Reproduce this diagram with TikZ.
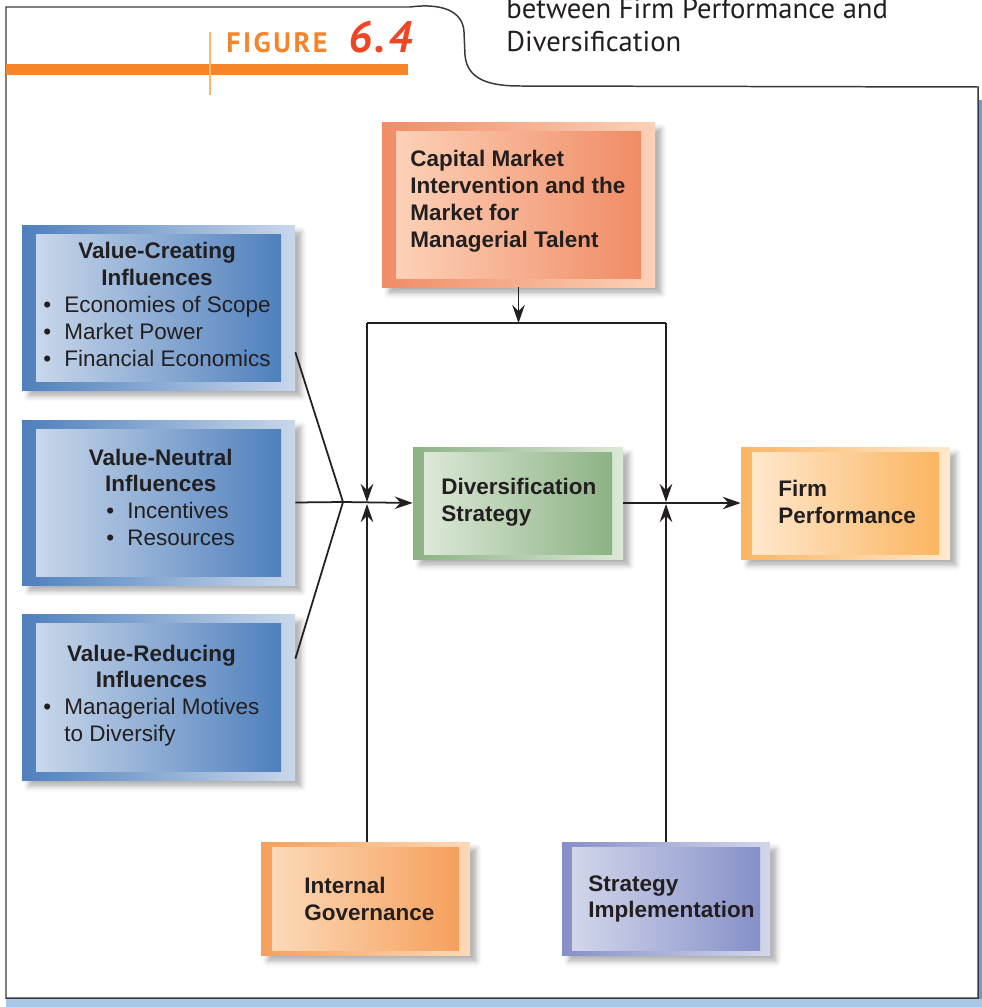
\documentclass[tikz,border=0pt]{standalone}
\usepackage{fontspec}
\setmainfont{Liberation Sans}
\newfontfamily\capfont{PT Sans}
\usetikzlibrary{arrows.meta,fit,calc,shadows.blur}

\definecolor{txt}{HTML}{231F20}
\definecolor{frameline}{HTML}{3A3A3A}
\definecolor{figorange}{HTML}{F4852A}
\definecolor{figred}{HTML}{EE4524}
\definecolor{figline}{HTML}{FBB86C}
\definecolor{stripblue}{HTML}{A9C8E8}
\definecolor{edgeblue}{HTML}{6F9BD0}
\definecolor{bluedark}{HTML}{4E80BD}
\definecolor{bluelight}{HTML}{C9D7EA}
\definecolor{salmondark}{HTML}{F08C66}
\definecolor{salmonlight}{HTML}{FCD1B7}
\definecolor{greendark}{HTML}{8CB284}
\definecolor{greenlight}{HTML}{DCE8D7}
\definecolor{golddark}{HTML}{FBB562}
\definecolor{goldlight}{HTML}{FEE8CC}
\definecolor{orangedark}{HTML}{F5A05C}
\definecolor{orangelight}{HTML}{FCD9B8}
\definecolor{purpledark}{HTML}{8690C8}
\definecolor{purplelight}{HTML}{D2D6EB}

\tikzset{
  conn/.style={line width=1pt, draw=txt},
  flow/.style={conn, -{Stealth[length=3.6mm,width=2.5mm,inset=1.2mm]}},
  lbl/.style={font=\fontsize{12.8}{15.3}\selectfont, text=txt, inner sep=0pt, align=left},
  bold lbl/.style={lbl, font=\fontsize{12.8}{15.3}\selectfont\bfseries},
}

% panel: name, x1, y1, x2, y2, band x, band y, dark, light
\newcommand{\panel}[9]{%
  \node[fit={(#2,#3)(#4,#5)}, inner sep=0pt] (#1) {};
  \shade[left color=#8, right color=#9,
    blur shadow={shadow xshift=1.3mm, shadow yshift=-1.3mm, shadow blur radius=1mm, shadow opacity=30}]
    (#2,#3) rectangle (#4,#5);
  \shade[left color=#9, right color=#8] (#2+#6,#3+#7) rectangle (#4-#6,#5-#7);
}
\newcommand{\bul}{\makebox[0.94em][l]{\textbullet}}

\begin{document}
\begin{tikzpicture}[x=0.02cm, y=-0.02cm]
  \useasboundingbox (0,0) rectangle (982,1007);

  % frame with tab
  \fill[stripblue] (6,999) rectangle (982,1007);
  \fill[edgeblue] (979,100) rectangle (982,999);
  \draw[frameline, line width=0.85pt] (6,998) -- (6,7) -- (410,7)
    .. controls (440,3) and (463,10) .. (464,32) -- (465,55)
    .. controls (467,80) and (490,86) .. (520,86) -- (978,87) -- (978,998) -- cycle;

  % title
  \fill[figorange] (6,64) rectangle (408,75);
  \draw[figline, line width=1.1pt] (210,32) -- (210,95);
  \node[anchor=base west, inner sep=0pt, text=figorange,
    font=\capfont\fontsize{16}{19}\selectfont\bfseries\addfontfeature{LetterSpace=9}] (fig) at (226,53) {FIGURE};
  \node[anchor=base west, inner sep=0pt, text=figred,
    font=\capfont\fontsize{25}{26}\selectfont\bfseries\itshape\addfontfeature{LetterSpace=6}] (fignum) at (348,53) {6.4};
  \node[anchor=base west, inner sep=0pt, text=txt, align=left,
    font=\capfont\fontsize{16.3}{19.3}\selectfont] (title) at (506,52)
    {between Firm Performance and\\Diversification};

  % boxes
  \panel{vc}{22}{225}{295}{390}{14}{9}{bluedark}{bluelight}
  \panel{vn}{22}{420}{295}{585}{14}{9}{bluedark}{bluelight}
  \panel{vr}{22}{614}{295}{780}{14}{9}{bluedark}{bluelight}
  \panel{cm}{382}{122}{655}{287}{14}{9}{salmondark}{salmonlight}
  \panel{ds}{413}{447}{623}{559}{11}{5}{greendark}{greenlight}
  \panel{fp}{741}{447}{950}{559}{11}{5}{golddark}{goldlight}
  \panel{ig}{261}{842}{470}{955}{11}{5}{orangedark}{orangelight}
  \panel{si}{562}{842}{770}{955}{10}{5}{purpledark}{purplelight}

  % texts
  \node[lbl, anchor=west] (vctxt) at (43,307) {\begin{tabular}{@{}l@{}}
    \multicolumn{1}{@{}c@{}}{\bfseries Value-Creating}\\
    \multicolumn{1}{@{}c@{}}{\bfseries Influences}\\
    \bul Economies of Scope\\
    \bul Market Power\\
    \bul Financial Economics
  \end{tabular}};
  \node[lbl, anchor=west] (vntxt) at (86,500) {\begin{tabular}{@{}l@{}}
    \multicolumn{1}{@{}c@{}}{\bfseries Value-Neutral}\\
    \multicolumn{1}{@{}c@{}}{\bfseries Influences}\\
    \hspace*{0.4cm}\bul Incentives\\
    \hspace*{0.4cm}\bul Resources
  \end{tabular}};
  \node[lbl, anchor=west] (vrtxt) at (43,696) {\begin{tabular}{@{}l@{}}
    \multicolumn{1}{@{}c@{}}{\bfseries Value-Reducing}\\
    \multicolumn{1}{@{}c@{}}{\bfseries Influences}\\
    \bul Managerial Motives\\
    \hspace*{0.94em}to Diversify
  \end{tabular}};
  \node[bold lbl, anchor=west] (cmtxt) at (410,201)
    {Capital Market\\Intervention and the\\Market for\\Managerial Talent};
  \node[bold lbl, anchor=west] (dstxt) at (441,502)
    {Diversification\\Strategy};
  \node[bold lbl, anchor=west] (fptxt) at (778,502)
    {Firm\\Performance};
  \node[bold lbl, anchor=west] (igtxt) at (304,899)
    {Internal\\Governance};
  \node[bold lbl, anchor=west] (sitxt) at (588,899)
    {Strategy\\Implementation};

  % connectors
  \coordinate (join) at (343,502);
  \coordinate (tl) at (367,323);
  \coordinate (tr) at (666,323);
  \draw[conn] ($(vc.north east)!0.77!(vc.south east)$) -- (join);
  \draw[conn] (vn.east) -- (join);
  \draw[conn] ($(vr.north east)!0.27!(vr.south east)$) -- (join);
  \draw[flow] (join) -- (ds.west);
  \draw[flow] (cm.south) -- (cm.south |- tl);
  \draw[conn] (tl) -- (tr);
  \draw[flow] (tl) -- ($(tl |- ds.west)+(0,-1)$);
  \draw[flow] (tr) -- ($(tr |- ds.east)+(0,-1)$);
  \draw[flow] (ig.north -| tl) -- ($(tl |- ds.west)+(0,1)$);
  \draw[flow] (si.north -| tr) -- ($(tr |- ds.east)+(0,1)$);
  \draw[flow] (ds.east) -- (fp.west);
\end{tikzpicture}
\end{document}
